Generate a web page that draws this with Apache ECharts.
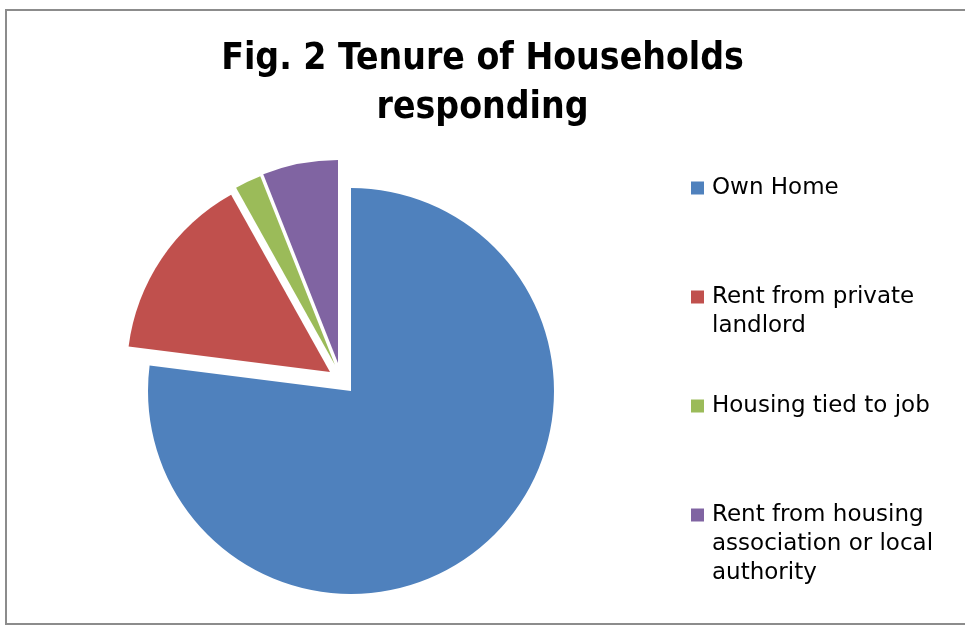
<!DOCTYPE html>
<html>
<head>
<meta charset="utf-8">
<script src="https://cdn.jsdelivr.net/npm/echarts@6/dist/echarts.min.js"></script>
<style>
  html, body { margin: 0; padding: 0; background: #ffffff; }
  #chart { width: 965px; height: 626px; }
</style>
</head>
<body>
<div id="chart"></div>
<script>
// Tenure categories and their share of responding households (%)
const categories = [
  'Own Home',
  'Rent from private landlord',
  'Housing tied to job',
  'Rent from housing association or local authority'
];
const shares = [77.0, 14.9, 2.1, 6.0];

// Legend wording, wrapped the way it is printed
const legendText = [
  'Own Home',
  'Rent from private\nlandlord',
  'Housing tied to job',
  'Rent from housing\nassociation or local\nauthority'
];

const colors = ['#4F81BD', '#C0504D', '#9BBB59', '#8064A2'];

// Exploded slices: pixel shift of each slice away from the pie centre
const explode = [[0, 0], [-21, -19], [-16, -26], [-13, -28]];
const pieCenter = [351, 391];
const pieRadius = 203;

// Legend layout: vertical centre of each entry's first line, line height
const legendRows = [188, 297, 406, 515];
const lineH = 29;

const chart = echarts.init(document.getElementById('chart'), null, { renderer: 'canvas' });

// One pie per slice so each slice can carry its own explosion offset;
// every pie gets the full data so the angles come from the library.
const series = categories.map(function (_, k) {
  return {
    type: 'pie',
    center: [pieCenter[0] + explode[k][0], pieCenter[1] + explode[k][1]],
    radius: pieRadius,
    startAngle: 90,
    clockwise: true,
    silent: true,
    animation: false,
    label: { show: false },
    labelLine: { show: false },
    emphasis: { disabled: true },
    z: 2,
    data: categories.map(function (name, i) {
      return {
        name: name,
        value: shares[i],
        itemStyle: { color: i === k ? colors[i] : 'rgba(0,0,0,0)' }
      };
    })
  };
});

// One legend per entry. Legend text is centred on the colour key, so
// multi-line entries get blank lines in front to keep the key level
// with their first line.
const legends = categories.map(function (name, i) {
  const lines = legendText[i].split('\n').length;
  const boxH = (2 * lines - 1) * lineH;
  const lead = new Array(lines).join(' \n');
  return {
    orient: 'vertical',
    left: 691,
    top: legendRows[i] - boxH / 2,
    padding: 0,
    itemWidth: 13,
    itemHeight: 13,
    icon: 'rect',
    selectedMode: false,
    formatter: function () { return lead + legendText[i]; },
    textStyle: {
      fontFamily: 'DejaVu Sans',
      fontSize: 23,
      color: '#000000',
      lineHeight: lineH,
      padding: [0, 0, 0, 3]
    },
    data: [{
      name: name,
      itemStyle: { color: colors[i], borderWidth: 0 }
    }]
  };
});

chart.setOption({
  animation: false,
  backgroundColor: '#ffffff',
  title: {
    text: 'Fig. 2 Tenure of Households\nresponding',
    left: 'center',
    top: 30,
    textStyle: {
      fontFamily: 'DejaVu Sans Condensed',
      fontWeight: 'bold',
      fontSize: 37,
      lineHeight: 49,
      color: '#000000'
    }
  },
  legend: legends,
  graphic: [{
    type: 'rect',
    silent: true,
    z: -10,
    shape: { x: 6, y: 10, width: 980, height: 614 },
    style: { fill: null, stroke: '#8c8c8c', lineWidth: 2 }
  }],
  series: series
});
</script>
</body>
</html>
